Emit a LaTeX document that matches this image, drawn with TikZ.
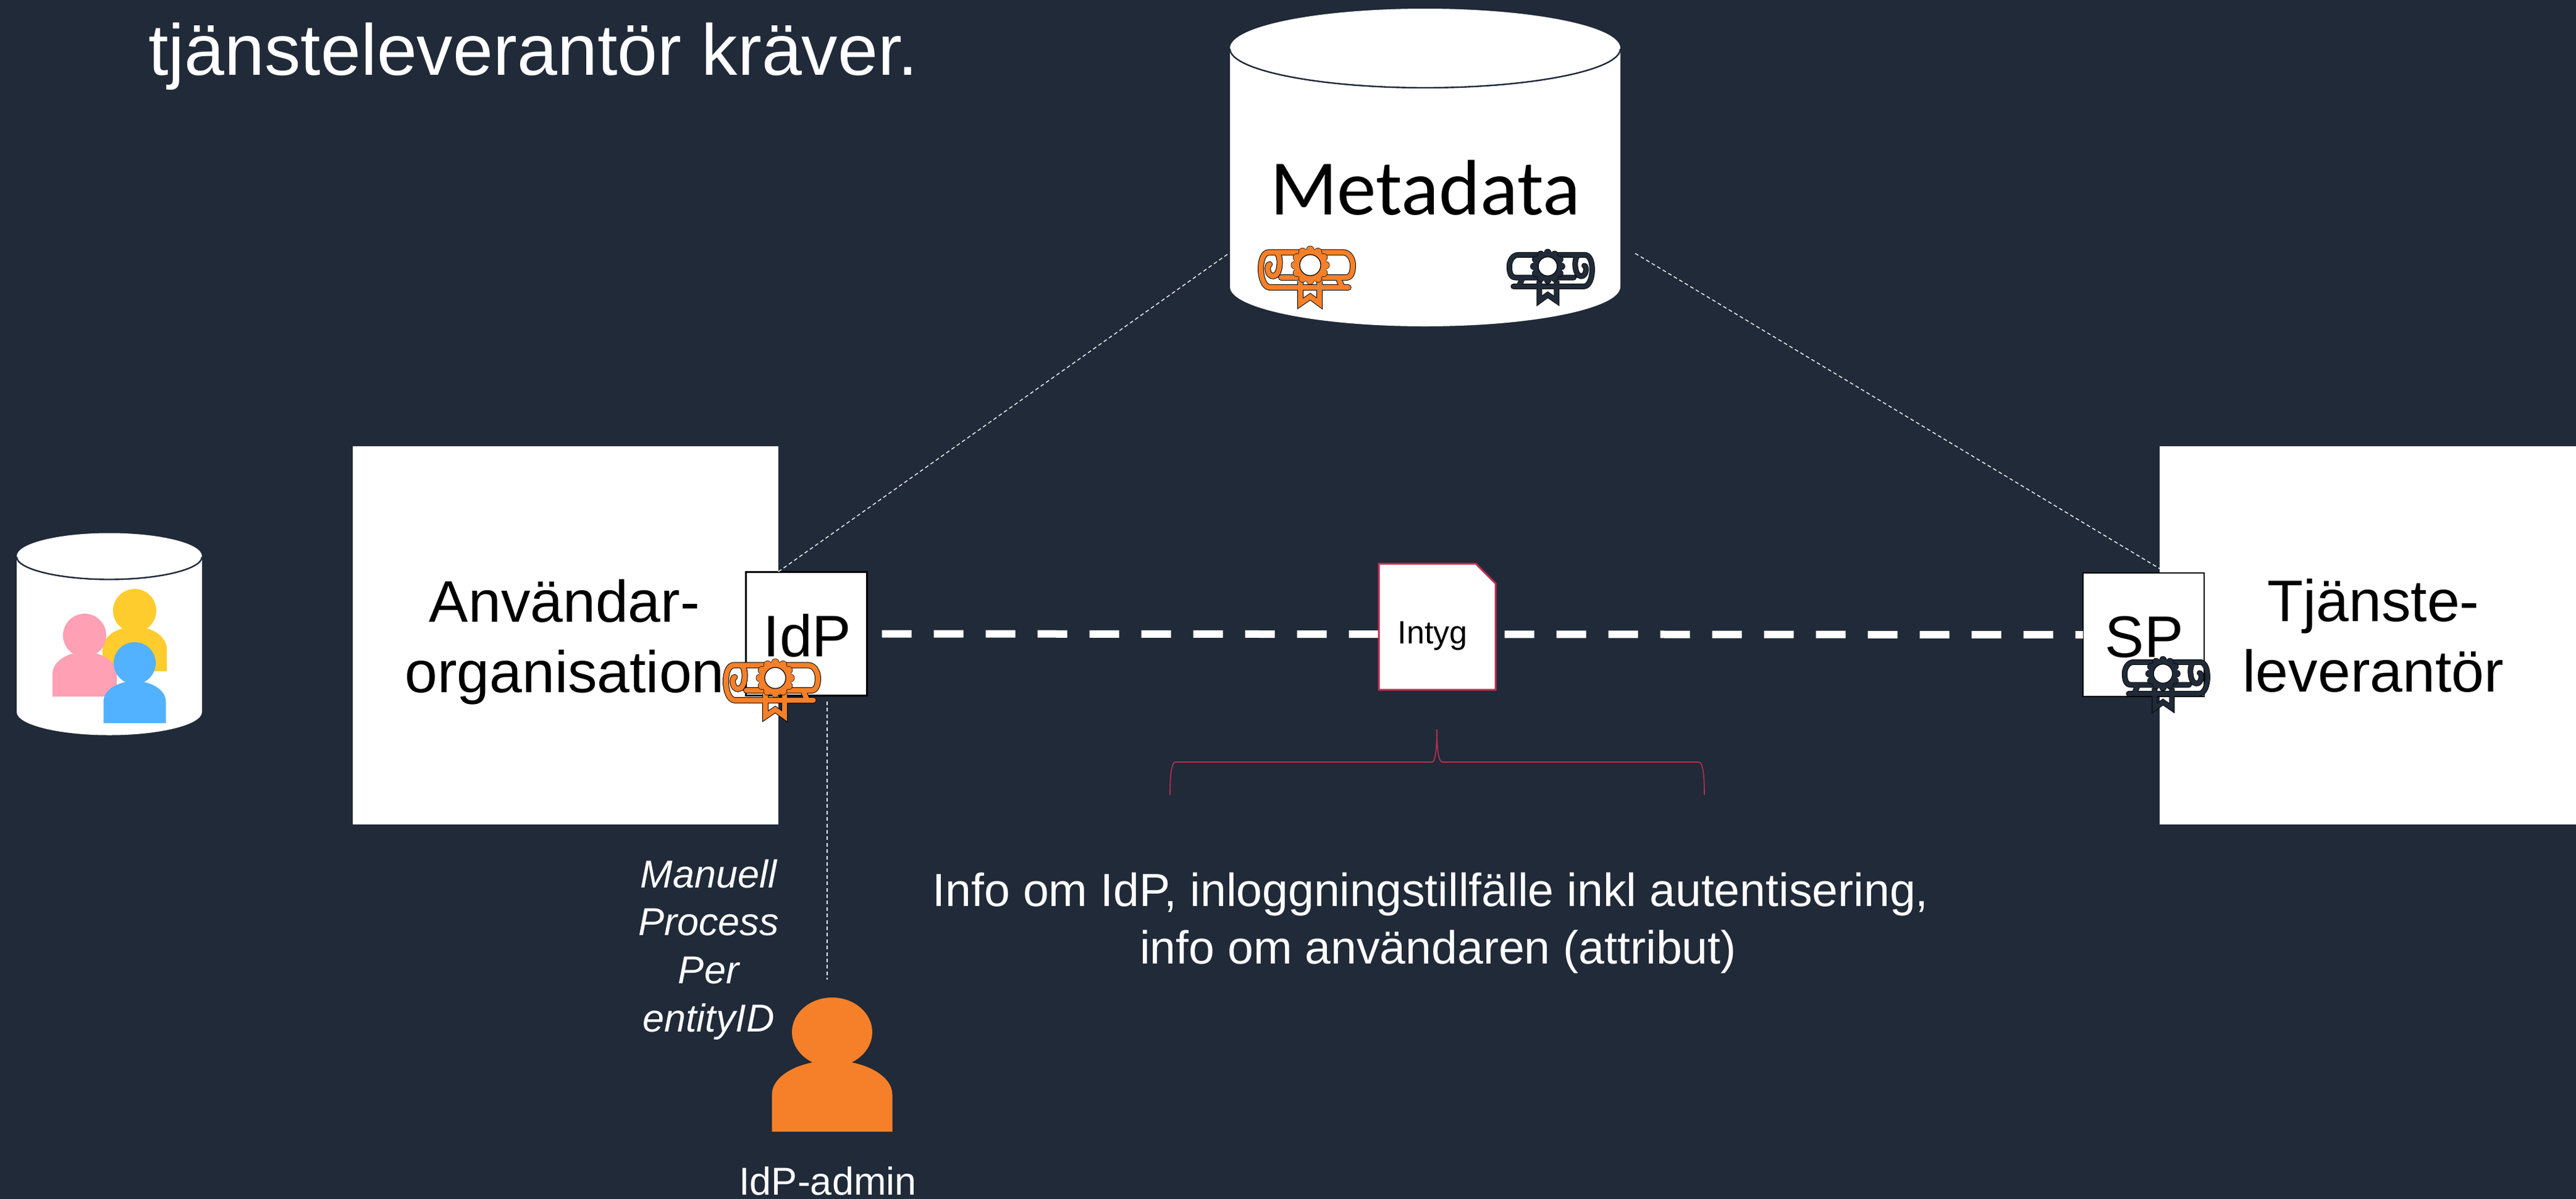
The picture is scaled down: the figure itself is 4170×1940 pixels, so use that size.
\documentclass[tikz,border=0pt]{standalone}
\usepackage{fontspec}
\setmainfont{Liberation Sans}
\newfontfamily\calib{Carlito}
\usetikzlibrary{calc}
\definecolor{bgc}{HTML}{202A38}
\definecolor{orangec}{HTML}{F58029}
\definecolor{pinkc}{HTML}{FFA0B5}
\definecolor{yellowc}{HTML}{FFCC2E}
\definecolor{bluec}{HTML}{52B2FF}
\definecolor{redc}{HTML}{BF2E50}
\newcommand{\fsz}[2]{\fontsize{#1pt}{#2pt}\selectfont}
\tikzset{
  x=0.25pt,y=-0.25pt,
  whitebox/.style={fill=white,draw=none,minimum width=#1,minimum height=153pt,inner sep=0,outer sep=0},
  smallbox/.style={fill=white,draw=black,line width=0.7pt,minimum width=49pt,minimum height=50pt,inner sep=0,outer sep=0},
  lbl/.style={anchor=base,inner sep=0,outer sep=0,text=black,align=center},
  wlbl/.style={lbl,text=white},
  thinconn/.style={white,line width=0.35pt,dash pattern=on 1.5pt off 1.1pt},
  msgline/.style={white,line width=3pt,dash pattern=on 12pt off 9pt,dash phase=15pt},
  bracec/.style={draw=redc,line width=0.4pt},
}
% cylinder: cx, left radius, top centre y, ry, bottom centre y
\newcommand{\cyl}[5]{%
  \fill[white] (#1-#2,#3) -- (#1-#2,#5) .. controls (#1-#2,#5+0.55*#4) and (#1-0.55*#2,#5+#4) .. (#1,#5+#4)
     .. controls (#1+0.55*#2,#5+#4) and (#1+#2,#5+0.55*#4) .. (#1+#2,#5) -- (#1+#2,#3) -- cycle;
  \fill[white] (#1,#3) ellipse [x radius=#2,y radius=#4];
  \draw[bgc,line width=0.6pt] (#1-#2,#3+1) .. controls (#1-#2,#3+0.55*#4) and (#1-0.55*#2,#3+#4) .. (#1,#3+#4)
     .. controls (#1+0.55*#2,#3+#4) and (#1+#2,#3+0.55*#4) .. (#1+#2,#3+1);
}
% person: colour, cx, head cy, head rx, head ry, half width, body top, side y, bottom
\newcommand{\person}[9]{%
  \fill[#1] (#2,#3) ellipse [x radius=#4,y radius=#5];
  \fill[#1] (#2-#6,#9) -- (#2-#6,#8) .. controls (#2-#6,#8-0.55*#8+0.55*#7) and (#2-0.55*#6,#7) .. (#2,#7)
     .. controls (#2+0.55*#6,#7) and (#2+#6,#8-0.55*#8+0.55*#7) .. (#2+#6,#8) -- (#2+#6,#9) -- cycle;
}
% certificate: x, y, signed x scale, colour, absolute scale
\newcommand{\cert}[5]{%
  \begin{scope}[shift={(#1,#2)},xscale=#3,yscale=#5]
    \def\scrollpath{%
      (145.7,66) -- (19,66) .. controls (9,66) and (4,50) .. (4,36) .. controls (4,20) and (9,9.3) .. (17.3,9.3)
      -- (137,9.3) .. controls (147,9.3) and (153,20) .. (153,30) .. controls (153,42) and (150,50) .. (142,50) -- (37,50)
      (18.3,28.7) .. controls (13,30) and (14,47.7) .. (24,47.7) .. controls (36,47.7) and (38,15) .. (29,9.3)
      (129,50) -- (135.7,66)}
    \def\ribbonpath{(68,56) -- (68,92) -- (84,81) -- (99,92) -- (99,56)}
    \draw[black,line width=#5*2.5pt,line cap=round] \scrollpath;
    \draw[black,line width=#5*2.5pt,miter limit=10] \ribbonpath;
    \draw[#4,line width=#5*2pt,line cap=round] \scrollpath;
    \draw[#4,line width=#5*2pt,miter limit=10] \ribbonpath;
    \foreach \a in {0,30,...,330}{\fill[black] (84,30)+(\a:25) circle [radius=6.5];}
    \foreach \a in {0,30,...,330}{\fill[#4] (84,30)+(\a:25) circle [radius=5.8];}
    \fill[#4] (84,30) circle [radius=26];
    \draw[black,fill=white,line width=0.3pt] (84,30) circle [radius=17];
  \end{scope}
}
\begin{document}
\begin{tikzpicture}
\useasboundingbox (0,0) rectangle (4170,1940);
\fill[bgc] (0,0) rectangle (4170,1940);

% big organisation boxes
\node[whitebox=172.25pt] (org) at (915.5,1028) {};
\node[whitebox=168.5pt] (tj) at (3833,1028) {};

% metadata database
\cyl{2307}{316}{78}{64}{464}
\coordinate (mdL) at (1989,410);
\coordinate (mdR) at (2647,410);
\node[lbl,font=\calib\fsz{31.8}{38}] (mdtxt) at (2307,347) {Metadata};
\cert{2037}{399}{1}{orangec}{1}
\cert{2581}{404}{-0.9}{bgc}{0.9}

% users database
\cyl{177}{150}{900}{37.5}{1152}
\person{yellowc}{218}{988}{35}{35}{52}{1014}{1050}{1086}
\person{pinkc}{137}{1028}{35}{35}{52}{1055}{1090}{1127}
\person{bluec}{218}{1073}{34}{34}{50.5}{1102}{1135}{1170}

% idp / sp
\node[smallbox] (idp) at (1305.5,1025.5) {};
\node[smallbox] (sp) at (3470,1027) {};
\coordinate (idptop) at (1260,925);
\coordinate (sptop) at (3496,920);
\coordinate (adminTop) at (1339,1585);
\coordinate (idpBot) at (1339,1135);

\draw[thinconn] (idptop) -- (mdL);
\draw[thinconn] (mdR) -- (sptop);
\draw[thinconn] (idpBot) -- (adminTop);
\draw[msgline] (idp.east) -- (sp.west);

% labels
\node[wlbl,anchor=base west,font=\fsz{29.2}{35}] (title) at (240,121) {tjänsteleverantör kräver.};
\node[lbl,font=\fsz{23.75}{28.5}] (orgtxt) at (914,1120) {Användar-\\organisation};
\node[lbl,font=\fsz{23.75}{28.5}] (tjtxt) at (3842,1119) {Tjänste-\\leverantör};
\node[lbl,font=\fsz{23.75}{28.5}] (idptxt) at (1307,1062) {IdP};
\node[lbl,font=\fsz{23.75}{28.5}] (sptxt) at (3471,1063) {SP};

\cert{1171}{1067}{1}{orangec}{1}
\cert{3577}{1063}{-0.9}{bgc}{0.9}

% assertion document
\draw[draw=redc,fill=white,line width=0.75pt] (2232,912) -- (2389,912) -- (2421,944) -- (2421,1116) -- (2232,1116) -- cycle;
\node[lbl,font=\fsz{13}{15.6}] (intyg) at (2319,1041) {Intyg};

% brace
\coordinate (brL) at (1894,1286);
\coordinate (brR) at (2759,1286);
\coordinate (brT) at (2326,1180);
\draw[bracec] (brL) .. controls (1894,1250) and (1897,1233) .. (1903,1233) -- (2318,1233)
   .. controls (2323,1233) and (2326,1215) .. (brT)
   .. controls (2326,1215) and (2329,1233) .. (2335,1233) -- (2750,1233)
   .. controls (2756,1233) and (2759,1250) .. (brR);

\node[wlbl,font=\fsz{18.8}{23.2}] (info) at (2316,1559) {Info om IdP, inloggningstillfälle inkl autentisering,\\\hspace*{6pt}info om användaren (attribut)};
\node[wlbl,font=\itshape\fsz{15.75}{19.4}] (manuell) at (1147,1669) {Manuell\\Process\\Per\\entityID};

% admin
\person{orangec}{1347}{1670}{65}{56}{97.5}{1716}{1771}{1831}
\node[wlbl,font=\fsz{15.75}{19}] (admintxt) at (1340,1933) {IdP-admin};
\end{tikzpicture}
\end{document}
